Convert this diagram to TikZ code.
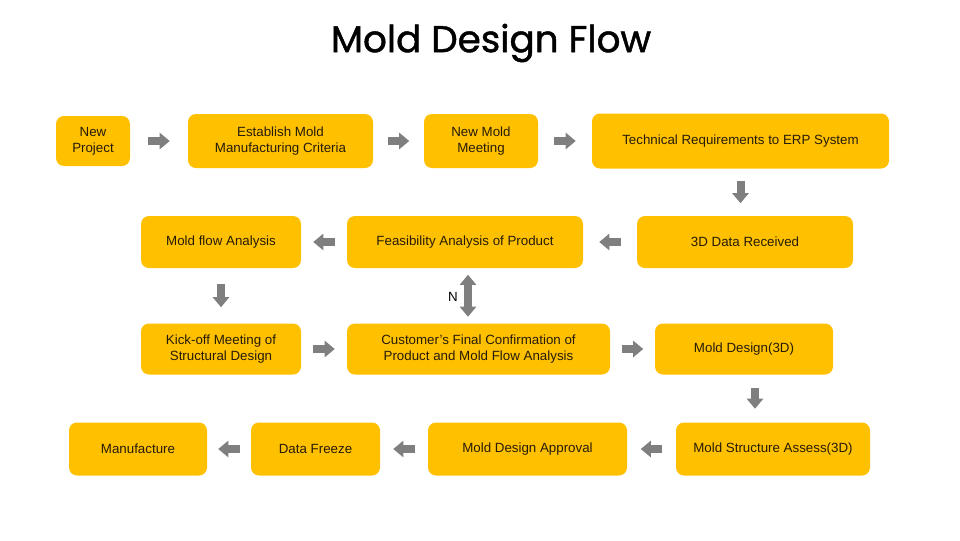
\documentclass[tikz,border=0pt]{standalone}
\usepackage{fontspec}
\setmainfont{Liberation Sans}
\newfontfamily\titlefont[FakeBold=1.2]{Poppins}
\usetikzlibrary{arrows.meta}

\definecolor{boxyellow}{RGB}{255,192,0}
\definecolor{arrowgray}{RGB}{127,127,127}
\definecolor{textdark}{RGB}{38,28,8}

\begin{document}
\begin{tikzpicture}[x=0.75pt,y=-0.75pt]
    \tikzstyle{stepbox}=[rounded corners=6pt,fill=boxyellow,text=textdark,align=center,inner sep=2pt,font=\fontsize{10}{12}\selectfont]
    \tikzstyle{flowarrow}=[arrowgray,line width=6pt,-{Triangle[length=7.5pt,width=12pt]},shorten <=#1*0.75pt,shorten >=#1*0.75pt]
    \tikzstyle{twoway}=[arrowgray,line width=6pt,{Triangle[length=7.5pt,width=12pt]}-{Triangle[length=7.5pt,width=12pt]},shorten <=#1*0.75pt,shorten >=#1*0.75pt]

    \useasboundingbox (0,0) rectangle (960,540);

    \node (title) at (491,43) {\titlefont\fontsize{28}{32}\selectfont Mold Design Flow};

    % row 1
    \foreach \name/\x/\w/\h/\txt in {np/93/74/50/{New\\Project}, emc/280.5/185/54/{Establish Mold\\Manufacturing Criteria},
            nmm/481/114/54/{New Mold\\Meeting}, tech/740.5/297/55/{Technical Requirements to ERP System}}
        \node[stepbox,minimum width=\w*0.75pt,minimum height=\h*0.75pt] (\name) at (\x,141) {\txt};

    % row 2
    \foreach \name/\x/\w/\txt in {mfa/221/160/{Mold flow Analysis}, fap/465/236/{Feasibility Analysis of Product},
            d3d/745/216/{3D Data Received}}
        \node[stepbox,minimum width=\w*0.75pt,minimum height=52*0.75pt] (\name) at (\x,242) {\txt};

    % row 3
    \foreach \name/\x/\w/\txt in {kick/221/160/{Kick-off Meeting of\\Structural Design},
            cfc/478.5/263/{Customer's Final Confirmation of\\Product and Mold Flow Analysis}, md3/744/178/{Mold Design(3D)}}
        \node[stepbox,minimum width=\w*0.75pt,minimum height=51*0.75pt] (\name) at (\x,349) {\txt};

    % row 4
    \foreach \name/\x/\w/\txt in {mfg/138/138/{Manufacture}, dfz/315.5/129/{Data Freeze},
            mda/527.5/199/{Mold Design Approval}, msa/773/194/{Mold Structure Assess(3D)}}
        \node[stepbox,minimum width=\w*0.75pt,minimum height=53*0.75pt] (\name) at (\x,449) {\txt};

    \foreach \from/\to/\s in {np/emc/18, emc/nmm/14.5, nmm/tech/16, d3d/fap/16, fap/mfa/12,
            kick/cfc/12, cfc/md3/11.5, msa/mda/13.5, mda/dfz/13, dfz/mfg/11}
        \draw[flowarrow=\s] (\from) -- (\to);

    \draw[flowarrow=12.5] (tech.south) -- (tech.south |- d3d.north);
    \draw[flowarrow=16] (mfa) -- (kick);
    \draw[flowarrow=13.5] ([xshift=11*0.75pt]md3.south) -- ([xshift=11*0.75pt]md3.south |- msa.north);

    \draw[twoway=6.5] ([xshift=3*0.75pt]fap.south) -- ([xshift=3*0.75pt]fap.south |- cfc.north);
    \node[font=\fontsize{10}{12}\selectfont] (nlabel) at (453,297) {N};
\end{tikzpicture}
\end{document}
